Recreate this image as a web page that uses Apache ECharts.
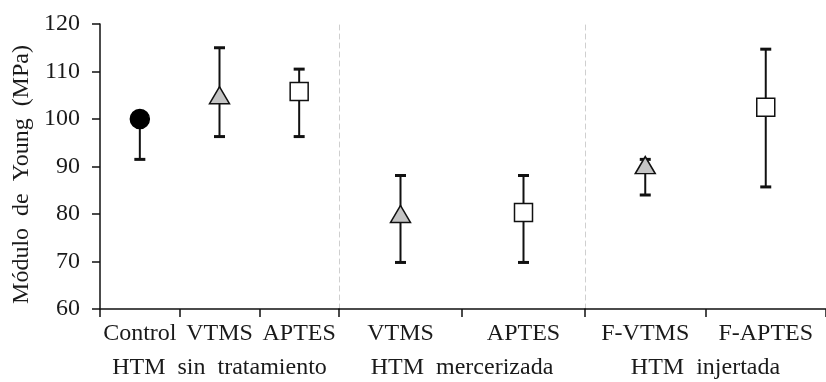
<!DOCTYPE html>
<html>
<head>
<meta charset="utf-8">
<script src="https://cdn.jsdelivr.net/npm/echarts@6/dist/echarts.min.js"></script>
<style>
  html, body { margin: 0; padding: 0; background: #fff; }
  #chart { width: 826px; height: 382px; }
</style>
</head>
<body>
<div id="chart"></div>
<script>
// Young's modulus (MPa) per treatment group: mean and error-bar limits
const groupNames = ['HTM  sin  tratamiento', 'HTM  mercerizada', 'HTM  injertada'];

const catSinTratamiento = ['Control', 'VTMS', 'APTES'];
const meanSinTratamiento = [100, 105, 105.8];
const upperSinTratamiento = [100, 115, 110.5];
const lowerSinTratamiento = [91.5, 96.3, 96.3];

const catMercerizada = ['VTMS', 'APTES'];
const meanMercerizada = [80, 80.3];
const upperMercerizada = [88.1, 88.1];
const lowerMercerizada = [69.8, 69.8];

const catInjertada = ['F-VTMS', 'F-APTES'];
const meanInjertada = [90.3, 102.5];
const upperInjertada = [91.5, 114.7];
const lowerInjertada = [84, 85.7];

const yMin = 60, yMax = 120, yStep = 10;
const yAxisTitle = 'Módulo  de  Young  (MPa)';

// marker look by silane type
function markerFor(name) {
  if (name === 'Control') return { symbol: 'circle', size: 19, color: '#000', border: '#000' };
  if (name.indexOf('VTMS') >= 0) return { symbol: 'triangle', size: [20, 17], color: '#c4c4c4', border: '#111' };
  return { symbol: 'rect', size: 18, color: '#fff', border: '#111' };
}

const groups = [
  { cats: catSinTratamiento, mean: meanSinTratamiento, up: upperSinTratamiento, lo: lowerSinTratamiento },
  { cats: catMercerizada, mean: meanMercerizada, up: upperMercerizada, lo: lowerMercerizada },
  { cats: catInjertada, mean: meanInjertada, up: upperInjertada, lo: lowerInjertada }
];

const FONT = 'Liberation Serif';
const TXT = '#1a1a1a';
const gridTop = 24, gridBottom = 73;
const gridBoxes = [
  { left: 100, width: 239 },
  { left: 339, width: 246 },
  { left: 585, width: 253 }
];

const grid = [], xAxis = [], yAxis = [], series = [];

groups.forEach((g, i) => {
  grid.push({ left: gridBoxes[i].left, width: gridBoxes[i].width, top: gridTop, bottom: gridBottom, containLabel: false });

  // category row
  xAxis.push({
    type: 'category', gridIndex: i, data: g.cats, position: 'bottom',
    boundaryGap: true,
    axisLine: { show: true, lineStyle: { color: '#111', width: 1.5 } },
    axisTick: { show: true, length: 8, inside: false, interval: 0, lineStyle: { color: '#111', width: 1.5 } },
    axisLabel: { color: TXT, fontFamily: FONT, fontSize: 24, margin: 13, interval: 0, hideOverlap: false }
  });
  // group row
  xAxis.push({
    type: 'category', gridIndex: i, data: [groupNames[i]], position: 'bottom', offset: 34,
    axisLine: { show: false }, axisTick: { show: false },
    axisLabel: { color: TXT, fontFamily: FONT, fontSize: 24, margin: 13, interval: 0 }
  });

  if (i === 0) {
    yAxis.push({
      type: 'value', gridIndex: i, min: yMin, max: yMax, interval: yStep,
      name: yAxisTitle, nameLocation: 'middle', nameGap: 66, nameRotate: 90,
      nameTextStyle: { color: TXT, fontFamily: FONT, fontSize: 24, padding: [0, 16, 0, 0] },
      axisLine: { show: true, lineStyle: { color: '#111', width: 1.5 } },
      axisTick: { show: true, length: 8, inside: false, lineStyle: { color: '#111', width: 1.5 } },
      axisLabel: { color: TXT, fontFamily: FONT, fontSize: 24, margin: 20 },
      splitLine: { show: false }
    });
  } else {
    yAxis.push({
      type: 'value', gridIndex: i, min: yMin, max: yMax, interval: yStep,
      axisLine: { show: true, lineStyle: { color: '#cfcfcf', width: 1, type: [5, 4] } },
      axisTick: { show: false }, axisLabel: { show: false },
      splitLine: { show: false }
    });
  }

  // error bars
  series.push({
    type: 'custom', xAxisIndex: i * 2, yAxisIndex: i, z: 2,
    data: g.cats.map((c, k) => [k, g.lo[k], g.up[k]]),
    renderItem: function (params, api) {
      const x = api.coord([api.value(0), 0])[0];
      const yLo = api.coord([api.value(0), api.value(1)])[1];
      const yUp = api.coord([api.value(0), api.value(2)])[1];
      const half = 5.5;
      const st = { stroke: '#111', lineWidth: 2 };
      const capSt = { stroke: '#111', lineWidth: 3 };
      return {
        type: 'group',
        children: [
          { type: 'line', shape: { x1: x, y1: yLo, x2: x, y2: yUp }, style: st },
          { type: 'line', shape: { x1: x - half, y1: yLo, x2: x + half, y2: yLo }, style: capSt },
          { type: 'line', shape: { x1: x - half, y1: yUp, x2: x + half, y2: yUp }, style: capSt }
        ]
      };
    }
  });

  // mean markers
  series.push({
    type: 'scatter', xAxisIndex: i * 2, yAxisIndex: i, z: 3,
    data: g.cats.map((c, k) => {
      const m = markerFor(c);
      return {
        value: [k, g.mean[k]],
        symbol: m.symbol, symbolSize: m.size,
        itemStyle: { color: m.color, borderColor: m.border, borderWidth: 1.5, opacity: 1 }
      };
    })
  });
});

const chart = echarts.init(document.getElementById('chart'), null, { renderer: 'canvas' });
chart.setOption({
  backgroundColor: '#ffffff',
  animation: false,
  grid: grid,
  xAxis: xAxis,
  yAxis: yAxis,
  series: series
});
</script>
</body>
</html>
